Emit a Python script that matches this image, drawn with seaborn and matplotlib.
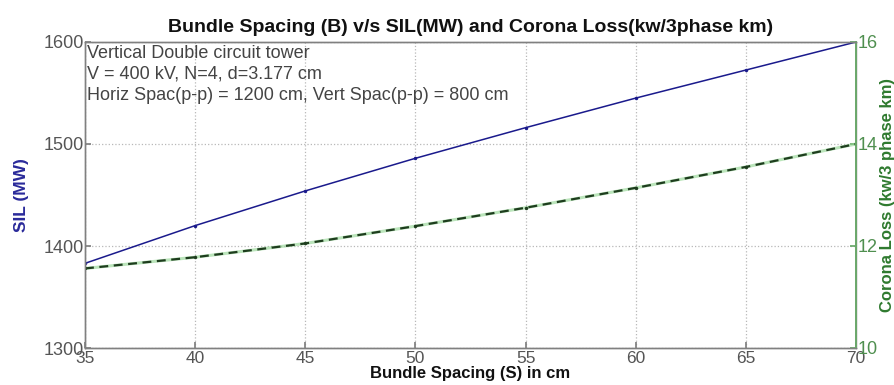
import matplotlib
matplotlib.use("Agg")
import matplotlib.pyplot as plt
import seaborn as sns
import pandas as pd

# data
spacing = [35, 40, 45, 50, 55, 60, 65, 70]
sil_mw = [1383, 1420, 1454, 1486, 1516, 1545, 1572.5, 1600]
corona_loss = [11.56, 11.78, 12.05, 12.39, 12.75, 13.14, 13.55, 14.0]

left_ticks = [1300, 1400, 1500, 1600]
right_ticks = [10, 12, 14, 16]
x_ticks = [35, 40, 45, 50, 55, 60, 65, 70]

df = pd.DataFrame({"S": spacing, "SIL": sil_mw, "Loss": corona_loss})

sns.set_theme(style="ticks")
plt.rcParams["font.family"] = ["Liberation Sans", "DejaVu Sans"]

fig = plt.figure(figsize=(8.95, 3.85), dpi=100)
ax = fig.add_axes([85 / 895, 1 - 348 / 385, (856 - 85) / 895, (348 - 42) / 385])
ax2 = ax.twinx()

# SIL curve on left axis
sns.lineplot(data=df, x="S", y="SIL", ax=ax, color="#1a1a8c", linewidth=1.1,
             marker="o", markersize=2.5, markeredgewidth=0)

# corona loss curve on right axis (green glow under a dark dashed line)
sns.lineplot(data=df, x="S", y="Loss", ax=ax2, color="#8fd48f", linewidth=2.2, alpha=0.6)
sns.lineplot(data=df, x="S", y="Loss", ax=ax2, color="#1e3d1e", linewidth=1.6,
             linestyle=(0, (4, 2.5)), marker="o", markersize=2.5, markeredgewidth=0)

ax.set_xlim(35, 70)
ax.set_ylim(1300, 1600)
ax2.set_ylim(10, 16)
ax.set_xticks(x_ticks)
ax.set_yticks(left_ticks)
ax2.set_yticks(right_ticks)

ax.grid(True, color="#b8b8b8", linestyle=":", linewidth=0.9)

for a in (ax, ax2):
    for s in a.spines.values():
        s.set_color("#808080")
        s.set_linewidth(1.0)
ax2.spines["right"].set_color("#6aa86a")
ax2.spines["right"].set_linewidth(1.4)

ax.tick_params(axis="both", direction="in", length=4, color="#808080",
               labelsize=13, labelcolor="#555555", pad=1)
ax.tick_params(axis="x", labelsize=12.5, pad=2)
ax2.tick_params(axis="y", direction="in", length=4, color="#6aa86a",
                labelsize=13, labelcolor="#4f8f4f", pad=1)

ax.set_xlabel("Bundle Spacing (S) in cm", fontsize=12, fontweight="bold",
              color="#111111", labelpad=0)
ax.set_ylabel("SIL (MW)", fontsize=12.5, fontweight="bold", color="#2a2a9a", labelpad=10)
ax2.set_ylabel("Corona Loss (kw/3 phase km)", fontsize=12, fontweight="bold",
               color="#2f7a2f", labelpad=2)
ax.set_title("Bundle Spacing (B) v/s SIL(MW) and Corona Loss(kw/3phase km)",
             fontsize=14, fontweight="bold", color="#111111", pad=7)

ax.text(0.002, 0.99,
        "Vertical Double circuit tower\nV = 400 kV, N=4, d=3.177 cm\n"
        "Horiz Spac(p-p) = 1200 cm, Vert Spac(p-p) = 800 cm",
        transform=ax.transAxes, ha="left", va="top", fontsize=13,
        color="#444444", linespacing=1.3)

fig.savefig("out.png", dpi=100)
